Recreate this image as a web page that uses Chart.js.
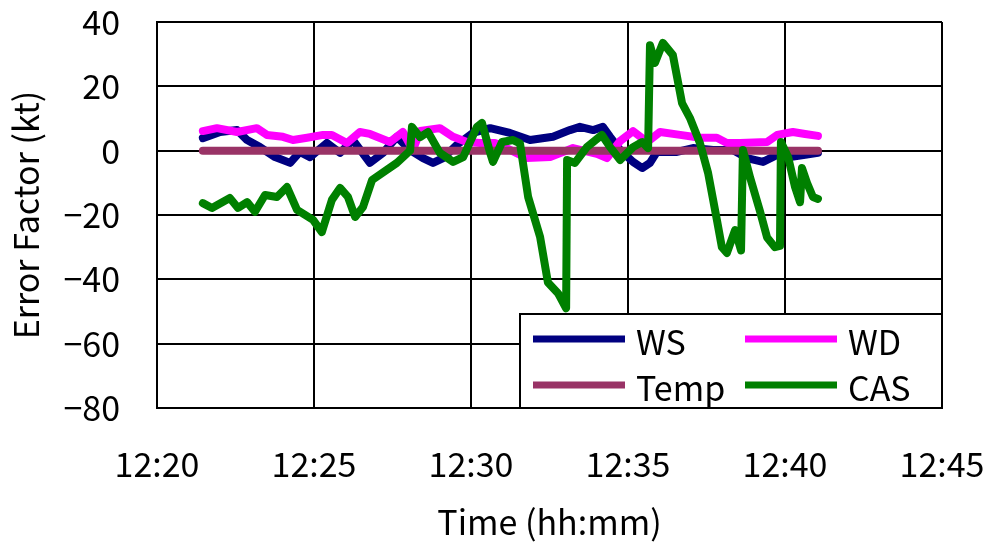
<!DOCTYPE html>
<html>
<head>
<meta charset="utf-8">
<script src="https://cdn.jsdelivr.net/npm/chart.js@4/dist/chart.umd.min.js"></script>
<style>
html,body{margin:0;padding:0;background:#fff;}
#wrap{width:988px;height:542px;}
</style>
</head>
<body>
<div id="wrap"><canvas id="c" width="988" height="542"></canvas></div>
<script>
// time in minutes after 12:00
const seriesNames = ['WS', 'WD', 'Temp', 'CAS'];
const xTickLabels = ['12:20', '12:25', '12:30', '12:35', '12:40', '12:45'];
const yTickLabels = ['\u221280', '\u221260', '\u221240', '\u221220', '0', '20', '40'];

const wsTime = [21.46,22.01,22.55,22.87,23.28,23.76,24.24,24.55,24.87,25.41,25.83,26.24,26.78,27.20,27.64,28.06,28.47,28.79,29.11,29.55,30.06,30.61,31.24,31.88,32.61,33.15,33.47,33.89,34.20,34.43,34.75,35.16,35.45,35.70,35.92,36.56,37.07,37.71,38.34,38.79,39.30,39.75,40.16,40.64,41.05];
const wsVal  = [3.9,5.8,6.4,3.3,1.1,-2,-3.8,-0.4,-2,2.4,-0.7,3.3,-3.8,-0.7,4.3,0.2,-2.3,-3.8,-2.3,1.8,5.5,7,5.5,3.3,4.3,6.4,7.4,6.4,7.4,4.3,0.2,-3.5,-5.4,-3.8,-0.4,-0.4,0.8,0.2,0.2,-2.3,-3.5,-1.3,-2,-1.3,-0.7];

const wdTime = [21.46,21.91,22.55,23.18,23.50,24.01,24.33,24.78,25.29,25.57,26.05,26.46,26.78,27.42,27.83,28.15,28.38,29.01,29.43,29.87,30.29,30.76,30.92,31.78,32.52,33.25,34.01,34.33,34.75,35.16,35.61,36.02,36.66,37.29,37.83,38.15,38.57,39.43,39.75,40.25,40.64,41.05];
const wdVal  = [6.1,7,5.8,7,4.9,4.3,3.3,4,4.9,4.9,2.4,5.8,5.2,2.7,5.8,0.2,6.1,7,4.3,2.7,2.4,2.4,1.8,-2.3,-2,0.8,-1,-2.3,3,6.1,2.7,5.8,4.9,4,4,2.4,2.4,2.7,4.9,5.8,5.2,4.6];

const tempTime = [21.46,25.0,30.0,35.0,40.0,41.05];
const tempVal  = [0,0,0,0,0,0];

const casTime = [21.46,21.75,22.32,22.58,22.87,23.12,23.44,23.82,24.14,24.46,24.97,25.25,25.57,25.83,26.08,26.31,26.56,26.85,27.64,28.06,28.12,28.38,28.63,29.01,29.43,29.75,30.19,30.35,30.61,30.70,30.99,31.34,31.56,31.82,32.20,32.45,32.77,33.03,33.06,33.31,33.69,34.17,34.43,34.75,35.16,35.45,35.64,35.70,35.86,36.11,36.43,36.72,36.97,37.29,37.55,37.83,37.99,38.15,38.41,38.60,38.66,38.89,39.20,39.43,39.68,39.84,39.87,40.10,40.32,40.48,40.54,40.70,40.89,41.05];
const casVal  = [-16.3,-17.8,-14.7,-17.8,-16,-19,-13.8,-14.4,-11.3,-18.4,-21.5,-25.3,-15.3,-11.6,-14.4,-20.6,-17.5,-9.1,-3.8,0,7.4,4.2,5.8,-0.7,-3.5,-2,7.4,8.6,-0.7,-3.5,2.7,3.3,2.3,-14.4,-26.8,-41,-44.3,-49,-2.9,-3.8,1.1,4.9,1.1,-2.9,1.1,2.7,0.8,32.8,27.3,33.5,29.7,14.8,10.2,2.4,-6.9,-21.5,-30,-31.8,-24.7,-31,0.2,-8.4,-18.7,-27,-30,-29.6,2.7,-2,-11.3,-16,-5.4,-10,-14.4,-15];

const colors = ['#000080', '#FF00FF', '#993366', '#008000'];

function pts(t, v) { return t.map((x, i) => ({x: x, y: v[i]})); }

const FONT = '"Noto Sans CJK JP", "Noto Sans", sans-serif';

const legendPlugin = {
  id: 'boxLegend',
  afterDatasetsDraw(chart) {
    const ctx = chart.ctx;
    const a = chart.chartArea;
    const w = 423, h = 95;
    const x0 = a.right - w, y0 = a.bottom - h;
    ctx.save();
    ctx.fillStyle = '#fff';
    ctx.fillRect(x0, y0, w, h);
    ctx.lineWidth = 2;
    ctx.strokeStyle = '#000';
    ctx.strokeRect(x0 + 1, y0 + 1, w - 1, h - 1);
    ctx.font = '34px ' + FONT;
    ctx.textBaseline = 'middle';
    ctx.fillStyle = '#000';
    chart.data.datasets.forEach((ds, i) => {
      const col = i % 2, row = Math.floor(i / 2);
      const lx = x0 + 14 + col * 212;
      const ly = y0 + 26 + row * 46;
      ctx.strokeStyle = ds.borderColor;
      ctx.lineWidth = 7;
      ctx.lineCap = 'butt';
      ctx.beginPath();
      ctx.moveTo(lx, ly);
      ctx.lineTo(lx + 92, ly);
      ctx.stroke();
      ctx.fillStyle = '#000';
      ctx.fillText(ds.label, lx + 103, ly + 3);
    });
    ctx.restore();
  }
};

const datasets = [
  {label: seriesNames[0], data: pts(wsTime, wsVal), borderColor: colors[0], order: 3},
  {label: seriesNames[1], data: pts(wdTime, wdVal), borderColor: colors[1], order: 2},
  {label: seriesNames[2], data: pts(tempTime, tempVal), borderColor: colors[2], order: 1},
  {label: seriesNames[3], data: pts(casTime, casVal), borderColor: colors[3], order: 0}
].map(d => Object.assign(d, {
  borderWidth: 8, pointRadius: 0, tension: 0, fill: false,
  borderJoinStyle: 'round', borderCapStyle: 'round', backgroundColor: d.borderColor
}));

function zeroPad(s) { s.paddingLeft = 0; s.paddingRight = 0; s.paddingTop = 0; s.paddingBottom = 0; }

new Chart(document.getElementById('c'), {
  type: 'line',
  data: {datasets: datasets},
  options: {
    responsive: false,
    animation: false,
    devicePixelRatio: 1,
    layout: {padding: {left: 0, right: 46, top: 22, bottom: 0}},
    plugins: {legend: {display: false}, tooltip: {enabled: false}},
    scales: {
      x: {
        type: 'linear', min: 20, max: 45,
        ticks: {stepSize: 5, padding: 36, color: '#000', font: {family: FONT, size: 34},
          maxRotation: 0, autoSkip: false,
          callback: (v, i) => xTickLabels[i]},
        grid: {color: '#000', lineWidth: 2, drawTicks: false},
        border: {color: '#000', width: 2},
        title: {display: true, text: 'Time (hh:mm)', color: '#000',
          font: {family: FONT, size: 34}, padding: {top: 0, bottom: 0}},
        afterFit: s => { s.height = 134; zeroPad(s); }
      },
      y: {
        min: -80, max: 40,
        ticks: {stepSize: 20, padding: 37, color: '#000', font: {family: FONT, size: 34},
          callback: (v, i) => yTickLabels[i]},
        grid: {color: '#000', lineWidth: 2, drawTicks: false},
        border: {color: '#000', width: 2},
        title: {display: true, text: 'Error Factor (kt)', color: '#000',
          font: {family: FONT, size: 34}, padding: {top: 6, bottom: 0}},
        afterFit: s => { s.width = 157; zeroPad(s); }
      }
    }
  },
  plugins: [legendPlugin]
});
</script>
</body>
</html>
